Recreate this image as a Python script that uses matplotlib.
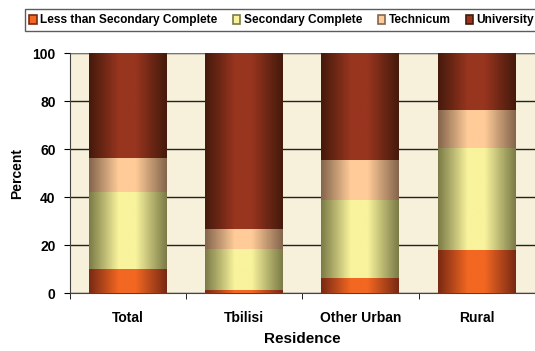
import numpy as np
import matplotlib.pyplot as plt
from matplotlib.colors import LinearSegmentedColormap
from matplotlib.patches import Patch

plt.rcParams['font.family'] = ['Liberation Sans', 'DejaVu Sans']
plt.rcParams['font.weight'] = 'bold'

categories = ["Total", "Tbilisi", "Other Urban", "Rural"]
series = ["Less than Secondary Complete", "Secondary Complete", "Technicum", "University"]
less_secondary = [10.1, 1.4, 6.5, 18.0]
secondary = [32.2, 17.1, 32.4, 42.4]
technicum = [14.2, 8.3, 16.6, 16.0]
university = [43.5, 73.2, 44.5, 23.6]

# (edge, centre) colours for the cylinder-like shading
shades = [("#7a2a14", "#f26722"),
          ("#7c7c48", "#f8f39c"),
          ("#85664d", "#ffcb98"),
          ("#461a0c", "#98351f")]

fig = plt.figure(figsize=(5.35, 3.51), dpi=100)
ax = fig.add_axes([0.13, 0.165, 0.87, 0.683])
ax.set_facecolor("#f7f0db")

x = np.arange(len(categories))
grad = np.linspace(0, 1, 64).reshape(1, -1)
bottom = np.zeros(len(categories))
for vals, (dark, light) in zip([less_secondary, secondary, technicum, university], shades):
    cmap = LinearSegmentedColormap.from_list("", [(0, dark), (0.38, light), (0.6, light), (1, dark)])
    bars = ax.bar(x, vals, 0.67, bottom=bottom, facecolor="none", edgecolor="none", zorder=3)
    for b in bars:
        x0, y0 = b.get_x(), b.get_y()
        ax.imshow(grad, cmap=cmap, aspect="auto", zorder=3,
                  extent=(x0, x0 + b.get_width(), y0, y0 + b.get_height()))
    bottom += np.array(vals)

ax.set_xlim(-0.5, 3.5)
ax.set_ylim(0, 100)
ax.set_yticks(range(0, 101, 20))
ax.yaxis.grid(True, color="#222222", linewidth=1.0, zorder=1)
ax.set_axisbelow(True)
ax.set_xticks(x)
ax.set_xticklabels(categories, fontsize=10, fontweight="bold")
ax.set_xticks(np.arange(-0.5, 3.6, 1), minor=True)
ax.tick_params(axis="x", which="major", length=0, pad=13)
ax.tick_params(axis="x", which="minor", length=4, direction="out")
ax.tick_params(axis="y", length=4, labelsize=10, pad=6)
for lbl in ax.get_yticklabels():
    lbl.set_fontweight("bold")

for side in ["top", "right"]:
    ax.spines[side].set_visible(False)
ax.spines["left"].set_color("#444444")
ax.spines["bottom"].set_color("#444444")
ax.axhline(100, color="#888888", linewidth=1.2, zorder=2)

ax.set_ylabel("Percent", fontsize=10, fontweight="bold", labelpad=6)
ax.set_xlabel("Residence", fontsize=11, fontweight="bold", labelpad=5)

handles = [Patch(facecolor=light, edgecolor=dark, linewidth=1.2) for dark, light in shades]
leg = fig.legend(handles, series, loc="upper left", bbox_to_anchor=(0.035, 0.99),
                 ncol=4, fontsize=8.6, frameon=True, fancybox=False,
                 handlelength=0.6, handleheight=0.8, handletextpad=0.3,
                 columnspacing=1.3, borderpad=0.4)
leg.get_frame().set_edgecolor("#333333")
leg.get_frame().set_linewidth(1.0)
for t in leg.get_texts():
    t.set_fontweight("bold")

fig.savefig("out.png", dpi=100)
